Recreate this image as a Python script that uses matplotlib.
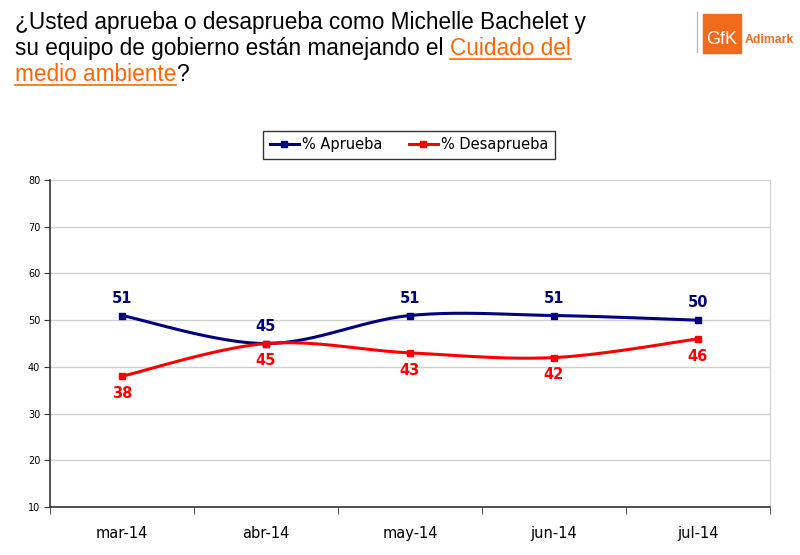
import numpy as np
import matplotlib
matplotlib.use("Agg")
import matplotlib.pyplot as plt
from matplotlib.lines import Line2D
from matplotlib.patches import Rectangle

# datos
meses = ["mar-14", "abr-14", "may-14", "jun-14", "jul-14"]
aprueba = [51, 45, 51, 51, 50]
desaprueba = [38, 45, 43, 42, 46]

azul = "#000080"
rojo = "#FF0000"
naranja = "#FF6600"


def suave(y, n=30):
    # curva suavizada tipo Excel (Bezier con tangentes Catmull-Rom)
    x = np.arange(len(y), dtype=float)
    y = np.asarray(y, dtype=float)
    xs, ys = [], []
    for i in range(len(y) - 1):
        x0, y0 = x[i], y[i]
        x3, y3 = x[i + 1], y[i + 1]
        xp = x[i - 1] if i > 0 else x0
        yp = y[i - 1] if i > 0 else y0
        xn = x[i + 2] if i + 2 < len(y) else x3
        yn = y[i + 2] if i + 2 < len(y) else y3
        x1, y1 = x0 + (x3 - xp) / 6, y0 + (y3 - yp) / 6
        x2, y2 = x3 - (xn - x0) / 6, y3 - (yn - y0) / 6
        t = np.linspace(0, 1, n)
        xs.append((1-t)**3*x0 + 3*(1-t)**2*t*x1 + 3*(1-t)*t**2*x2 + t**3*x3)
        ys.append((1-t)**3*y0 + 3*(1-t)**2*t*y1 + 3*(1-t)*t**2*y2 + t**3*y3)
    return np.concatenate(xs), np.concatenate(ys)


fig = plt.figure(figsize=(8, 5.55), dpi=100)
ax = fig.add_axes([0.0625, 0.0865, 0.9, 0.589])

x = np.arange(len(meses))
for serie, col in [(aprueba, azul), (desaprueba, rojo)]:
    sx, sy = suave(serie)
    ax.plot(sx, sy, color=col, lw=2.2, zorder=3)
    ax.plot(x, serie, ls="none", marker="s", ms=5, color=col, zorder=4)

for i in range(len(meses)):
    ax.annotate(str(aprueba[i]), (x[i], aprueba[i]), xytext=(0, 7),
                textcoords="offset points", ha="center", va="bottom",
                color=azul, fontsize=10.5, fontweight="bold", family="DejaVu Sans")
    ax.annotate(str(desaprueba[i]), (x[i], desaprueba[i]), xytext=(0, -7),
                textcoords="offset points", ha="center", va="top",
                color=rojo, fontsize=10.5, fontweight="bold", family="DejaVu Sans")

ax.set_xlim(-0.5, len(meses) - 0.5)
ax.set_ylim(10, 80)
ax.set_yticks(range(10, 81, 10))
ax.set_xticks(x)
ax.set_xticklabels(meses, fontsize=10.5)
ax.set_xticks(np.arange(-0.5, len(meses)), minor=True)
ax.tick_params(axis="x", which="major", length=0, pad=14)
ax.tick_params(axis="x", which="minor", length=5, direction="out", color="#333333")
ax.tick_params(axis="y", labelsize=7, length=4, color="#333333", pad=3)
ax.grid(axis="y", color="#d0d0d0", lw=1)
ax.set_axisbelow(True)
ax.spines["top"].set_visible(False)
ax.spines["right"].set_color("#d0d0d0")
ax.spines["left"].set_color("#333333")
ax.spines["bottom"].set_color("#333333")
ax.spines["left"].set_linewidth(1.2)
ax.spines["bottom"].set_linewidth(1.2)

handles = [Line2D([], [], color=azul, lw=2.2, marker="s", ms=4),
           Line2D([], [], color=rojo, lw=2.2, marker="s", ms=4)]
leg = fig.legend(handles, ["% Aprueba", "% Desaprueba"], ncol=2,
                 loc="center", bbox_to_anchor=(409 / 800, 1 - 145 / 555),
                 fontsize=10.5, frameon=True, fancybox=False, handlelength=2,
                 handletextpad=0.2, columnspacing=1.8, borderpad=0.45)
leg.get_frame().set_edgecolor("black")
leg.get_frame().set_linewidth(1)

# titulo con partes en naranja subrayadas
fig.canvas.draw()
r = fig.canvas.get_renderer()
fs = 16.3
lineas = [
    [("¿Usted aprueba o desaprueba como Michelle Bachelet y", "black")],
    [("su equipo de gobierno están manejando el ", "black"), ("Cuidado del", naranja)],
    [("medio ambiente", naranja), ("?", "black")],
]
y0 = 1 - 29 / 555
for k, linea in enumerate(lineas):
    xpos = 15 / 800
    yb = y0 - k * 26 / 555
    for txt, col in linea:
        t = fig.text(xpos, yb, txt, color=col, fontsize=fs, family="Liberation Sans",
                     ha="left", va="baseline")
        bb = t.get_window_extent(renderer=r)
        if col == naranja:
            fig.add_artist(Line2D([bb.x0 / 800, bb.x1 / 800],
                                  [yb - 3.5 / 555, yb - 3.5 / 555],
                                  color=naranja, lw=1.2))
        xpos = bb.x1 / 800

# logo
fig.add_artist(Line2D([697 / 800, 697 / 800], [1 - 12 / 555, 1 - 52 / 555],
                      color="#bbbbbb", lw=1))
fig.add_artist(Rectangle((703 / 800, 1 - 53 / 555), 38 / 800, 39 / 555,
                         color="#F26A1B", transform=fig.transFigure))
fig.text(722 / 800, 1 - 40 / 555, "GfK", color="white", fontsize=13,
         family="Liberation Sans", ha="center", va="center")
fig.text(745 / 800, 1 - 40 / 555, "Adimark", color="#F26A1B", fontsize=8.8,
         fontweight="bold", family="Liberation Sans", ha="left", va="center")

fig.savefig("out.png", dpi=100)
